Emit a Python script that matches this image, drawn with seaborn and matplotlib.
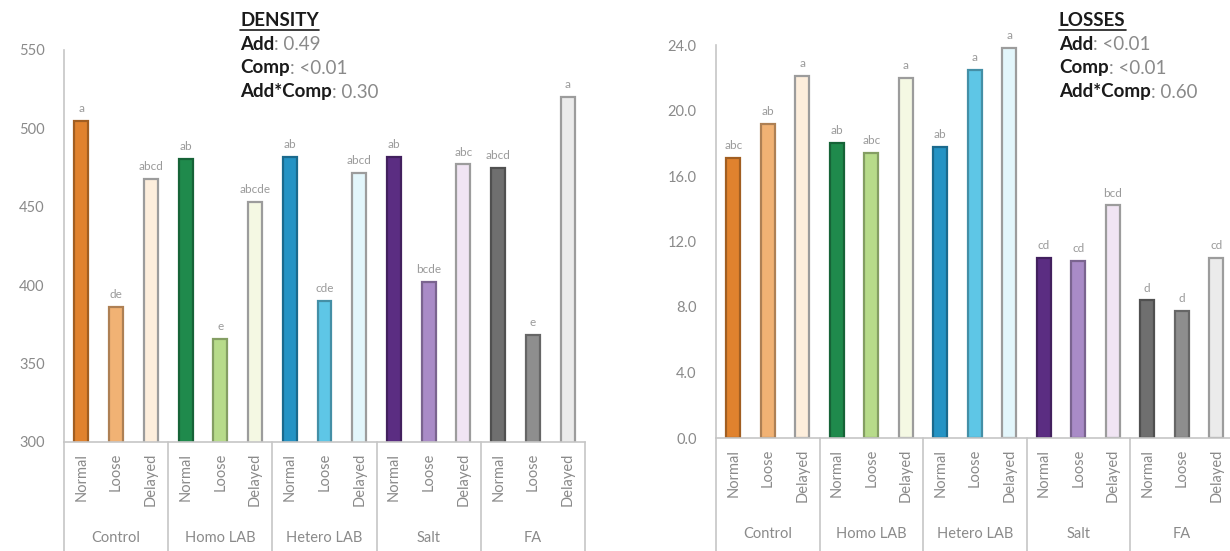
import matplotlib
matplotlib.use("Agg")
import matplotlib.pyplot as plt
import matplotlib.transforms as mtransforms
import numpy as np
import pandas as pd
import seaborn as sns

# ---- data -------------------------------------------------------------
additives = ["Control", "Homo LAB", "Hetero LAB", "Salt", "FA"]
compaction = ["Normal", "Loose", "Delayed"]

density = [505, 386, 468, 480.5, 365.5, 453, 482, 390, 471.5,
           482, 402, 477, 475, 368, 520]
density_letters = ["a", "de", "abcd", "ab", "e", "abcde", "ab", "cde", "abcd",
                   "ab", "bcde", "abc", "abcd", "e", "a"]

losses = [17.1, 19.2, 22.1, 18.0, 17.4, 22.0, 17.8, 22.5, 23.8,
          11.0, 10.8, 14.2, 8.4, 7.75, 11.0]
loss_letters = ["abc", "ab", "a", "ab", "abc", "a", "ab", "a", "a",
                "cd", "cd", "bcd", "d", "d", "cd"]

density_ticks = [300, 350, 400, 450, 500, 550]
loss_ticks = [0, 4, 8, 12, 16, 20, 24]

density_stats = [("Add", "0.49"), ("Comp", "<0.01"), ("Add*Comp", "0.30")]
loss_stats = [("Add", "<0.01"), ("Comp", "<0.01"), ("Add*Comp", "0.60")]

# fill colours per additive: Normal, Loose, Delayed
fills = {
    "Control":    ["#E0822E", "#F1B274", "#FDEEDC"],
    "Homo LAB":   ["#1F8A4C", "#B7DB8A", "#F4F8E3"],
    "Hetero LAB": ["#2593C4", "#5EC6E6", "#E3F6FB"],
    "Salt":       ["#5B2D82", "#A98BC7", "#F0E4F3"],
    "FA":         ["#6F6F6F", "#8E8E8E", "#EBEBEB"],
}

# ---- style ------------------------------------------------------------
sns.set_style("white")
plt.rcParams["font.family"] = ["Lato", "DejaVu Sans"]
GREY_TXT = "#8a8a8a"
AXIS_GREY = "#c6c6c6"

fig = plt.figure(figsize=(12.3, 5.51), dpi=100)
W, H = 1230, 551


def px_axes(x0, x1, ytop, ybot):
    return fig.add_axes([x0 / W, (H - ybot) / H, (x1 - x0) / W, (ybot - ytop) / H])


ax1 = px_axes(64, 585, 50, 442)
ax2 = px_axes(716, 1233.5, 45, 438)

labels = [f"{a}|{c}" for a in additives for c in compaction]
face = [fills[a][k] for a in additives for k in range(3)]


def darker(c, f=0.72):
    r, g, b = matplotlib.colors.to_rgb(c)
    return (r * f, g * f, b * f)


edge = []
for a in additives:
    edge += [darker(fills[a][0]), darker(fills[a][1]), "#9c9c9c"]


def draw(ax, values, letters, ylim, ticks, fmt):
    df = pd.DataFrame({"cat": labels, "val": values})
    sns.barplot(data=df, x="cat", y="val", hue="cat", palette=face,
                order=labels, legend=False, width=0.4, ax=ax,
                linewidth=1.6, saturation=1)
    for patch, ec in zip(ax.patches, edge):
        patch.set_edgecolor(ec)
    for i, (v, t) in enumerate(zip(values, letters)):
        ax.annotate(t, (i, v), xytext=(0, 5), textcoords="offset points",
                    ha="center", va="bottom", fontsize=8.5, color="#9a9a9a")
    ax.set_ylim(*ylim)
    ax.set_xlim(-0.5, len(labels) - 0.5)
    ax.set_yticks(ticks)
    ax.set_yticklabels([fmt(t) for t in ticks], color=GREY_TXT, fontsize=10.5)
    ax.set_xticks(range(len(labels)))
    ax.set_xticklabels(compaction * len(additives), rotation=90,
                       color=GREY_TXT, fontsize=10.5)
    ax.tick_params(axis="y", length=0, pad=14)
    ax.tick_params(axis="x", length=0, pad=8)
    ax.set_xlabel("")
    ax.set_ylabel("")
    for s in ["top", "right"]:
        ax.spines[s].set_visible(False)
    for s in ["left", "bottom"]:
        ax.spines[s].set_color(AXIS_GREY)
        ax.spines[s].set_linewidth(1.2)
    # multi-level category axis: group dividers and group names
    trans = mtransforms.blended_transform_factory(ax.transData, ax.transAxes)
    for g in range(len(additives) + 1):
        xg = g * 3 - 0.5
        ax.plot([xg, xg], [0, -0.32], transform=trans, color=AXIS_GREY,
                lw=1.2, clip_on=False)
    for g, name in enumerate(additives):
        ax.text(g * 3 + 1, -0.245, name, transform=trans, ha="center",
                va="center", fontsize=10.5, color=GREY_TXT)


draw(ax1, density, density_letters, (300, 550), density_ticks, lambda t: f"{t:d}")
draw(ax2, losses, loss_letters, (0, 24), loss_ticks, lambda t: f"{t:.1f}")

# ---- statistics text blocks -------------------------------------------
fig.canvas.draw()
renderer = fig.canvas.get_renderer()


def stats_block(x, y_head, head, rows):
    t = fig.text(x / W, 1 - y_head / H, head, fontsize=13.5, fontweight="bold",
                 color="#1a1a1a", ha="left", va="center")
    bb = t.get_window_extent(renderer)
    uy = bb.y0 - 1
    fig.add_artist(plt.Line2D([bb.x0 / W, bb.x1 / W], [uy / H, uy / H],
                              color="#1a1a1a", lw=1.2))
    for k, (name, val) in enumerate(rows):
        yy = 1 - (y_head + 24 * (k + 1)) / H
        tb = fig.text(x / W, yy, name, fontsize=13.5, fontweight="bold",
                      color="#1a1a1a", ha="left", va="center")
        bb = tb.get_window_extent(renderer)
        fig.text(bb.x1 / W, yy, ": " + val, fontsize=13.5, color="#8a8a8a",
                 ha="left", va="center")


stats_block(240, 20, "DENSITY", density_stats)
stats_block(1059, 20, "LOSSES", loss_stats)

fig.savefig("out.png", dpi=100, facecolor="white")
